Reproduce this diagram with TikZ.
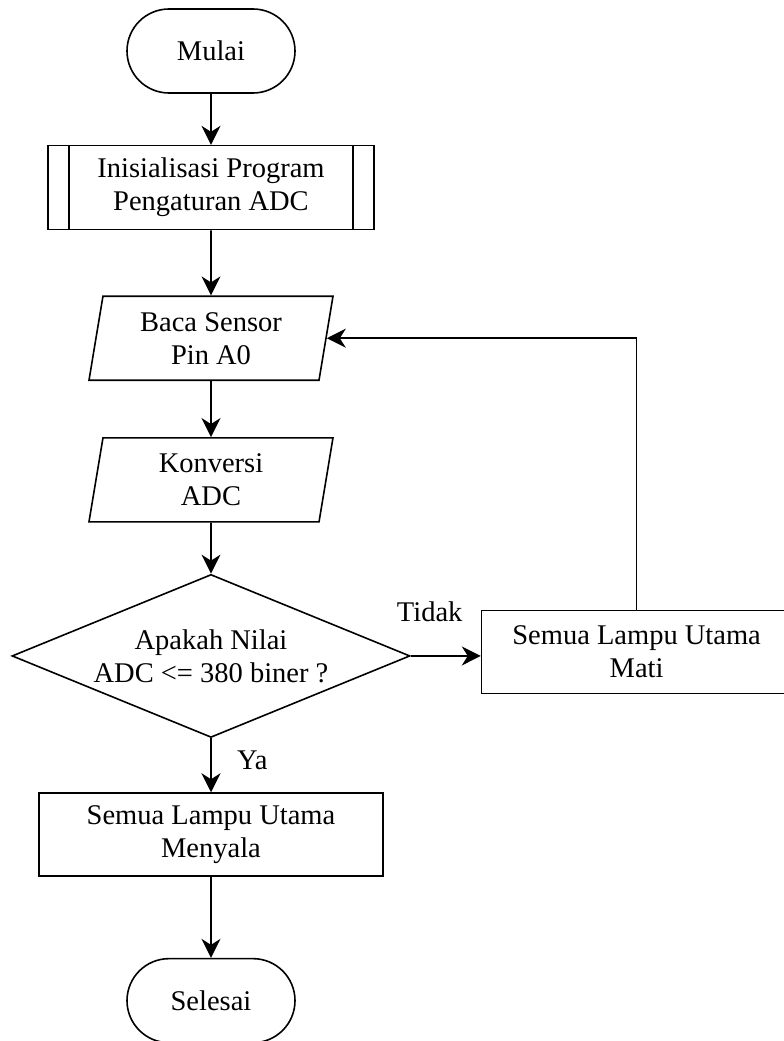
\documentclass[tikz,border=0pt]{standalone}
\usepackage{fontspec}
\setmainfont{Liberation Serif}
\usetikzlibrary{arrows.meta,positioning,shapes.geometric}

\begin{document}
\begin{tikzpicture}[
    x=1pt, y=-1pt,
    font=\fontsize{28.5}{33}\selectfont,
    line width=1.6pt,
    terminal/.style={draw,rectangle,rounded corners=42pt,minimum width=168pt,
      minimum height=84pt,inner sep=0pt},
    process/.style={draw,rectangle,minimum height=83pt,align=center,inner sep=0pt},
    predef/.style={process,minimum width=326pt,minimum height=84pt,
      path picture={\draw
        ([xshift=21pt]path picture bounding box.north west) --
        ([xshift=21pt]path picture bounding box.south west)
        ([xshift=-21pt]path picture bounding box.north east) --
        ([xshift=-21pt]path picture bounding box.south east);}},
    io/.style={draw,trapezium,trapezium left angle=75,trapezium right angle=105,
      trapezium stretches body,minimum width=244pt,minimum height=84pt,
      align=center,inner sep=0pt},
    decision/.style={draw,diamond,aspect=2.44,minimum width=398pt,minimum height=163pt,
      align=center,inner sep=0pt},
    flow/.style={-{Stealth[length=19pt,width=19pt,inset=6pt]}}
  ]
    \useasboundingbox (0,0) rectangle (784,1041);
    \node[terminal] (mulai) at (211,51) {Mulai};
    \node[predef,below=51pt of mulai] (init) {Inisialisasi Program\\Pengaturan ADC};
    \node[io,below=65pt of init] (baca) {Baca Sensor\\Pin A0};
    \node[io,below=56pt of baca] (konversi) {Konversi\\ADC};
    \node[decision,below=51pt of konversi] (cek) {Apakah Nilai\\ADC <= 380 biner ?};
    \node[process,minimum width=344pt,below=54pt of cek] (nyala) {Semua Lampu Utama\\Menyala};
    \node[terminal,below=81pt of nyala] (selesai) {Selesai};
    \node[process,minimum width=310pt,right=70pt of cek,yshift=4pt] (mati) {Semua Lampu Utama\\Mati};
    \draw[flow] (mulai) -- (init);
    \draw[flow] (init) -- (baca);
    \draw[flow] (baca) -- (konversi);
    \draw[flow] (konversi) -- (cek);
    \draw[flow] (cek.south) -- node[pos=.4,right=22pt] (ya) {Ya} (nyala.north);
    \draw[flow] (nyala) -- (selesai);
    \draw[flow] (cek.east) -- node[pos=.27,yshift=44pt] (tidak) {Tidak} (cek.east -| mati.west);
    \draw[flow] (mati.north) |- (baca.east);
  \end{tikzpicture}
\end{document}
